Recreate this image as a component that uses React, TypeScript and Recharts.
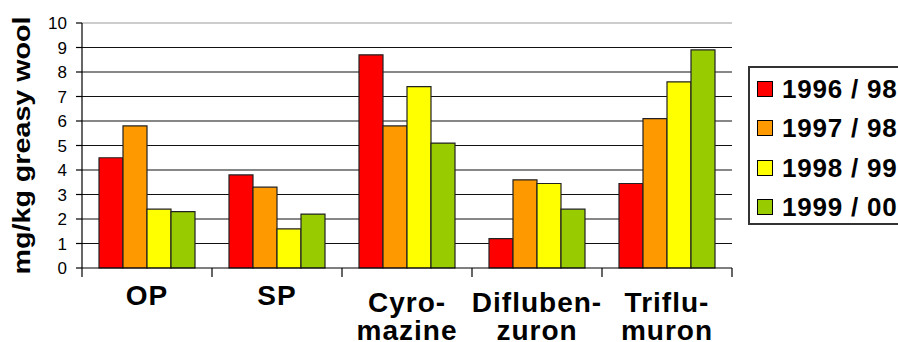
import React from 'react';
import { BarChart, Bar, XAxis, YAxis, CartesianGrid, Legend, ReferenceLine } from 'recharts';

const categories = ['OP', 'SP', 'Cyro-\nmazine', 'Difluben-\nzuron', 'Triflu-\nmuron'];
const s1996 = [4.5, 3.8, 8.7, 1.2, 3.45];
const s1997 = [5.8, 3.3, 5.8, 3.6, 6.1];
const s1998 = [2.4, 1.6, 7.4, 3.45, 7.6];
const s1999 = [2.3, 2.2, 5.1, 2.4, 8.9];
const seriesNames = ['1996 / 98', '1997 / 98', '1998 / 99', '1999 / 00'];
const seriesKeys = ['s1996', 's1997', 's1998', 's1999'];
const seriesColors = ['#FF0000', '#FF9900', '#FFFF00', '#99CC00'];
const yTicks = [0, 1, 2, 3, 4, 5, 6, 7, 8, 9, 10];
const gridValues = [1, 2, 3, 4, 5, 6, 7, 8, 9];
const yLabel = 'mg/kg greasy wool';

const data = categories.map((name, i) => ({
  name,
  s1996: s1996[i],
  s1997: s1997[i],
  s1998: s1998[i],
  s1999: s1999[i],
}));

const FONT = '"Liberation Sans", Arial, Helvetica, sans-serif';

const CatTick = (props: any) => {
  const { x, y, payload, index } = props;
  const half = payload && typeof payload.offset === 'number' ? payload.offset : 65;
  const lines = String(payload.value).split('\n');
  const first = lines.length === 1 ? 37 : 44;
  const last = index === categories.length - 1;
  return (
    <g>
      <line x1={x - half} x2={x - half} y1={y} y2={y + 9} stroke="#000" strokeWidth={1.2} />
      {last && <line x1={x + half} x2={x + half} y1={y} y2={y + 9} stroke="#000" strokeWidth={1.2} />}
      <text
        x={x}
        y={y + first}
        textAnchor="middle"
        fontFamily={FONT}
        fontWeight="bold"
        fontSize={28}
        letterSpacing={1}
        fill="#000"
      >
        {lines.map((l, i) => (
          <tspan key={i} x={x} y={y + first + i * 28}>
            {l}
          </tspan>
        ))}
      </text>
    </g>
  );
};

const YLabel = (props: any) => {
  const vb = props.viewBox || { x: 0, y: 23, width: 82, height: 245 };
  const cx = 30;
  const cy = vb.y + vb.height / 2;
  return (
    <text
      x={cx}
      y={cy}
      transform={`rotate(-90 ${cx} ${cy})`}
      textAnchor="middle"
      fontFamily={FONT}
      fontWeight="bold"
      fontSize={24}
      fill="#000"
      textLength={258}
      lengthAdjust="spacingAndGlyphs"
    >
      {yLabel}
    </text>
  );
};

const LegendBox = () => (
  <div
    style={{
      border: '2px solid #333',
      background: '#fff',
      width: 170,
      height: 159,
      boxSizing: 'border-box',
      paddingTop: 1,
      fontFamily: FONT,
    }}
  >
    {seriesNames.map((n, i) => (
      <div key={n} style={{ height: 39.5, display: 'flex', alignItems: 'center' }}>
        <div
          style={{
            width: 16,
            height: 16,
            boxSizing: 'border-box',
            border: '1.5px solid #000',
            background: seriesColors[i],
            marginLeft: 7,
            marginRight: 9,
            flex: 'none',
          }}
        />
        <span
          style={{
            fontSize: 26,
            fontWeight: 'bold',
            color: '#000',
            whiteSpace: 'nowrap',
            lineHeight: '30px',
            letterSpacing: 0.8,
          }}
        >
          {n}
        </span>
      </div>
    ))}
  </div>
);

export default function App() {
  return (
    <div style={{ position: 'absolute', left: 0, top: 0, width: 898, height: 342, overflow: 'hidden', background: '#fff' }}>
      <BarChart
        width={898}
        height={342}
        data={data}
        margin={{ top: 23, right: 166, bottom: 0, left: 0 }}
        barCategoryGap={17}
        barGap={0}
      >
        <CartesianGrid vertical={false} horizontalValues={gridValues} stroke="#111" strokeWidth={1.2} />
        <XAxis
          dataKey="name"
          interval={0}
          height={74}
          tickLine={false}
          tickSize={0}
          tickMargin={0}
          axisLine={{ stroke: '#000', strokeWidth: 1.2 }}
          tick={<CatTick />}
        />
        <YAxis
          domain={[0, 10]}
          ticks={yTicks}
          interval={0}
          width={82}
          tickSize={6}
          tickMargin={9}
          axisLine={{ stroke: '#000', strokeWidth: 1.2 }}
          tickLine={{ stroke: '#000', strokeWidth: 1.2 }}
          tick={{ fill: '#000', fontSize: 17, fontFamily: FONT }}
          label={<YLabel />}
        />
        <YAxis
          yAxisId="r"
          orientation="right"
          domain={[0, 10]}
          width={0}
          tick={false}
          tickLine={false}
          axisLine={{ stroke: '#999', strokeWidth: 1.2 }}
        />
        <ReferenceLine y={10} stroke="#999" strokeWidth={1.2} />
        {seriesKeys.map((k, i) => (
          <Bar
            key={k}
            dataKey={k}
            name={seriesNames[i]}
            fill={seriesColors[i]}
            stroke="#222"
            strokeWidth={1.2}
            isAnimationActive={false}
          />
        ))}
        <Legend
          layout="horizontal"
          verticalAlign="middle"
          align="center"
          content={<LegendBox />}
          wrapperStyle={{ left: 748, top: 66, right: 'auto', bottom: 'auto', width: 0, height: 0, overflow: 'visible' }}
        />
      </BarChart>
    </div>
  );
}
